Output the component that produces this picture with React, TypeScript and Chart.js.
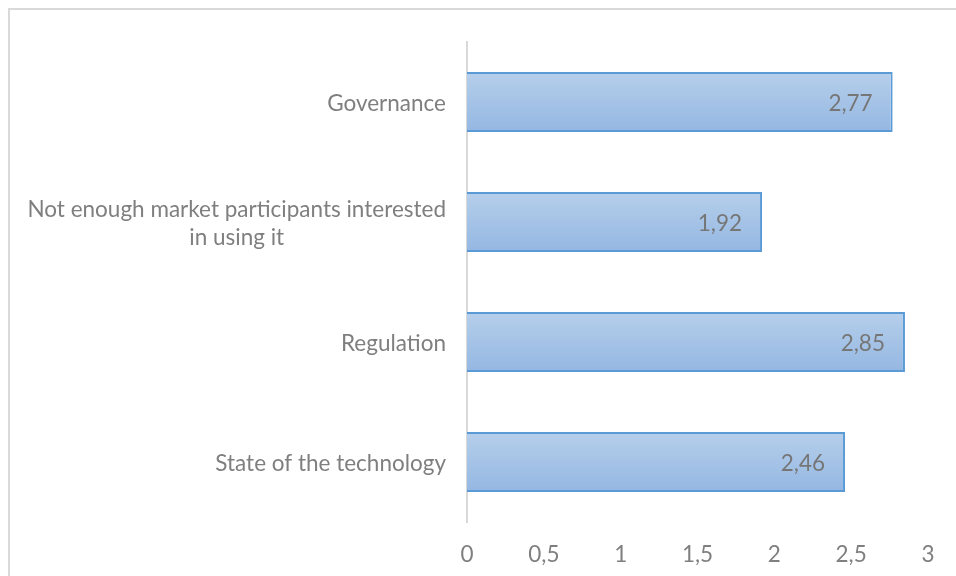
import React, { useEffect, useRef } from "react";
import { Chart, registerables } from "chart.js";

Chart.register(...registerables);

const categories: (string | string[])[] = [
  "Governance",
  ["Not enough market participants interested", "in using it"],
  "Regulation",
  "State of the technology",
];
const values: number[] = [2.77, 1.92, 2.85, 2.46];
const xTicks: number[] = [0, 0.5, 1, 1.5, 2, 2.5, 3];

const FONT_FAMILY = "Lato, 'Open Sans', sans-serif";
const FONT_SIZE = 22.5;
const TEXT_COLOR = "#7f7f7f";
const LABEL_COLOR = "#767676";

const fmt = (v: number, digits?: number) =>
  (digits !== undefined ? v.toFixed(digits) : String(v)).replace(".", ",");

const framePlugin = {
  id: "frame",
  beforeDraw(chart: any) {
    const ctx = chart.ctx;
    ctx.save();
    ctx.fillStyle = "#ffffff";
    ctx.fillRect(0, 0, chart.width, chart.height);
    ctx.strokeStyle = "#d9d9d9";
    ctx.lineWidth = 2;
    ctx.beginPath();
    ctx.moveTo(9, chart.height);
    ctx.lineTo(9, 9);
    ctx.lineTo(chart.width, 9);
    ctx.stroke();
    ctx.restore();
  },
};

const categoryLabelPlugin = {
  id: "categoryLabels",
  afterDraw(chart: any) {
    const ctx = chart.ctx;
    const yScale = chart.scales.y;
    const rightX = chart.chartArea.left - 21;
    const lineH = 28;
    ctx.save();
    ctx.font = `${FONT_SIZE}px ${FONT_FAMILY}`;
    ctx.fillStyle = TEXT_COLOR;
    ctx.textAlign = "center";
    ctx.textBaseline = "middle";
    categories.forEach((lab, i) => {
      const lines = Array.isArray(lab) ? lab : [lab];
      const w = Math.max(...lines.map((l) => ctx.measureText(l).width));
      const cx = rightX - w / 2;
      const yc = yScale.getPixelForValue(i) + 1.5;
      const y0 = yc - ((lines.length - 1) * lineH) / 2;
      lines.forEach((l, j) => ctx.fillText(l, cx, y0 + j * lineH));
    });
    ctx.restore();
  },
};

const dataLabelPlugin = {
  id: "dataLabels",
  afterDatasetsDraw(chart: any) {
    const ctx = chart.ctx;
    const meta = chart.getDatasetMeta(0);
    ctx.save();
    ctx.font = `${FONT_SIZE}px ${FONT_FAMILY}`;
    ctx.fillStyle = LABEL_COLOR;
    ctx.textAlign = "right";
    ctx.textBaseline = "middle";
    meta.data.forEach((el: any, i: number) => {
      ctx.fillText(fmt(values[i], 2), el.x - 20, el.y + 1.5);
    });
    ctx.restore();
  },
};

export default function App() {
  const canvasRef = useRef<HTMLCanvasElement | null>(null);

  useEffect(() => {
    if (!canvasRef.current) return;
    const chart = new Chart(canvasRef.current, {
      type: "bar",
      data: {
        labels: categories as any,
        datasets: [
          {
            data: values,
            backgroundColor: (c: any) => {
              const ch = c.chart;
              const ys = ch.scales?.y;
              if (!ys || c.dataIndex === undefined) return "#a5c3e6";
              const yc = ys.getPixelForValue(c.dataIndex);
              const half = ((ys.bottom - ys.top) / categories.length) * 0.25;
              if (!isFinite(yc) || !isFinite(half) || half <= 0) return "#a5c3e6";
              const g = ch.ctx.createLinearGradient(0, yc - half, 0, yc + half);
              g.addColorStop(0, "#b6cfeb");
              g.addColorStop(1, "#94b7e2");
              return g;
            },
            borderColor: "#5b9bd5",
            borderWidth: 2,
            borderSkipped: "start",
            barPercentage: 0.5,
            categoryPercentage: 1,
          },
        ],
      },
      options: {
        indexAxis: "y",
        responsive: false,
        animation: false,
        devicePixelRatio: 1,
        layout: { padding: { left: 0, top: 42, right: 28, bottom: 0 } },
        plugins: {
          legend: { display: false },
          tooltip: { enabled: false },
          title: { display: false },
        },
        scales: {
          x: {
            type: "linear",
            min: 0,
            max: 3,
            afterBuildTicks: (scale: any) => {
              scale.ticks = xTicks.map((v) => ({ value: v }));
            },
            afterFit: (scale: any) => {
              scale.height = 54;
            },
            grid: { display: false },
            border: { display: false },
            ticks: {
              color: TEXT_COLOR,
              font: { family: FONT_FAMILY, size: FONT_SIZE },
              padding: 11,
              maxRotation: 0,
              callback: (v: any) => fmt(Number(v)),
            },
          },
          y: {
            type: "category",
            afterFit: (scale: any) => {
              scale.width = 467;
            },
            grid: { display: false },
            border: { display: true, color: "#d9d9d9", width: 2 },
            ticks: { display: false },
          },
        },
      },
      plugins: [framePlugin, categoryLabelPlugin, dataLabelPlugin],
    });
    return () => chart.destroy();
  }, []);

  return (
    <div style={{ position: "fixed", left: 0, top: 0, width: 956, height: 576 }}>
      <canvas ref={canvasRef} width={956} height={576} style={{ display: "block" }} />
    </div>
  );
}
